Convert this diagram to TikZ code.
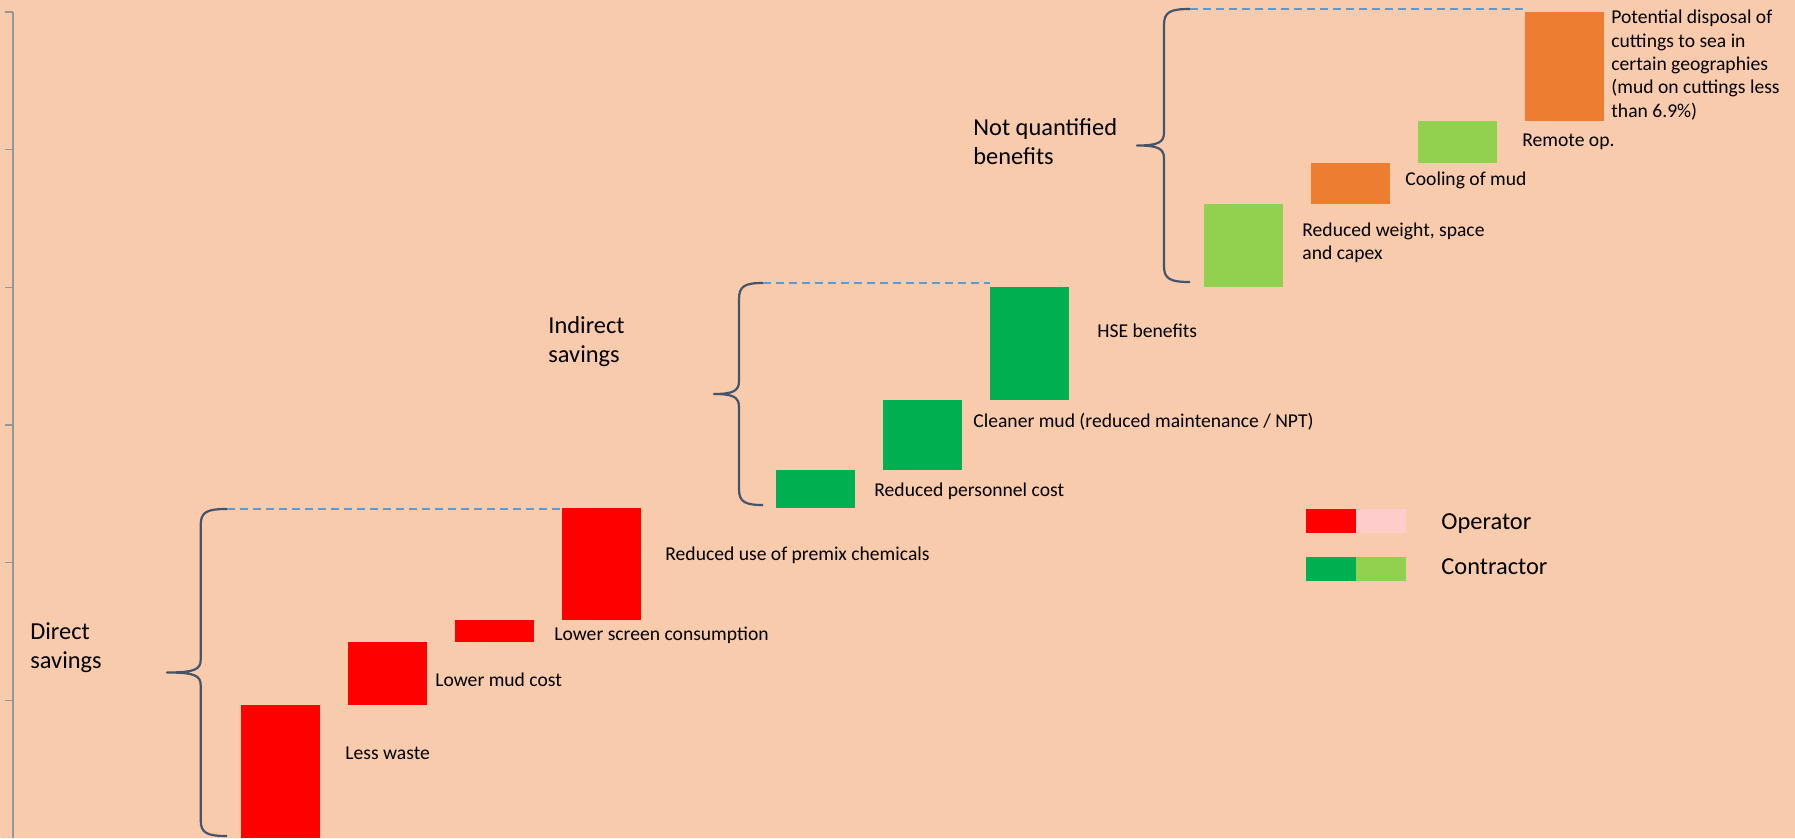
\documentclass[tikz,border=0pt]{standalone}
\usepackage{fontspec}
\setmainfont{Carlito}
\usepackage{tikz}
\usetikzlibrary{positioning}

\definecolor{bgpeach}{RGB}{248,203,173}
\definecolor{opred}{RGB}{255,0,0}
\definecolor{oppink}{RGB}{255,204,204}
\definecolor{condark}{RGB}{0,176,80}
\definecolor{conlight}{RGB}{146,208,80}
\definecolor{nqorange}{RGB}{237,125,49}
\definecolor{guideblue}{RGB}{91,155,213}
\definecolor{bracegray}{RGB}{68,84,106}
\definecolor{axisgray}{RGB}{150,150,150}

\begin{document}
\begin{tikzpicture}[
  x=0.5pt, y=-0.5pt,
  bar/.style={inner sep=0pt, outer sep=0pt, minimum width=39.5pt},
  lbl/.style={font=\fontsize{9.8}{11.65}\selectfont, inner sep=0pt, anchor=west, align=left},
  grp/.style={font=\fontsize{12.2}{14.5}\selectfont, inner sep=0pt, anchor=west, align=left},
  keybox/.style={inner sep=0pt, outer sep=0pt, minimum width=25pt, minimum height=11.85pt},
  brace/.style={draw=bracegray, line width=1.1pt, line join=round},
  guide/.style={draw=guideblue, line width=1.1pt, dash pattern=on 4pt off 2.5pt}
]
\fill[bgpeach] (0,0) rectangle (1795,838);

% value axis
\draw[axisgray, line width=0.6pt] (13,12) -- (13,838);
\foreach \k in {0,...,5}
  \draw[axisgray, line width=0.6pt] (5,12+137.67*\k) -- (13,12+137.67*\k);

% direct savings
\node[bar, fill=opred, minimum height=66.5pt, anchor=south west] (waste) at (241,838) {};
\node[bar, fill=opred, minimum height=31.5pt, above right=0pt and 14pt of waste.north east] (mud) {};
\node[bar, fill=opred, minimum height=11pt, above right=0pt and 14pt of mud.north east] (screen) {};
\node[bar, fill=opred, minimum height=56pt, above right=0pt and 14pt of screen.north east] (premix) {};

% indirect savings
\node[bar, fill=condark, minimum height=19pt, above right=0pt and 67.5pt of premix.north east] (personnel) {};
\node[bar, fill=condark, minimum height=35pt, above right=0pt and 14pt of personnel.north east] (cleaner) {};
\node[bar, fill=condark, minimum height=56.5pt, above right=0pt and 14pt of cleaner.north east] (hse) {};

% not quantified
\node[bar, fill=conlight, minimum height=41.5pt, above right=0pt and 67.5pt of hse.north east] (weight) {};
\node[bar, fill=nqorange, minimum height=20.5pt, above right=0pt and 14pt of weight.north east] (cooling) {};
\node[bar, fill=conlight, minimum height=21pt, above right=0pt and 14pt of cooling.north east] (remote) {};
\node[bar, fill=nqorange, minimum height=54.5pt, above right=0pt and 14pt of remote.north east] (disposal) {};

\node[lbl] (wasteLbl) at (345,753) {Less waste};
\node[lbl] (mudLbl) at (435,680) {Lower mud cost};
\node[lbl] (screenLbl) at (554,635) {Lower screen consumption};
\node[lbl] (premixLbl) at (665,555) {Reduced use of premix chemicals};
\node[lbl] (personnelLbl) at (874,491) {Reduced personnel cost};
\node[lbl] (cleanerLbl) at (973,422) {Cleaner mud (reduced maintenance / NPT)};
\node[lbl] (hseLbl) at (1097,331) {HSE benefits};
\node[lbl] (weightLbl) at (1302,243) {Reduced weight, space\\and capex};
\node[lbl] (coolingLbl) at (1405,180) {Cooling of mud};
\node[lbl] (remoteLbl) at (1522,142) {Remote op.};
\node[lbl] (disposalLbl) at (1611,65) {Potential disposal of\\cuttings to sea in\\certain geographies\\(mud on cuttings less\\than 6.9\%)};

\node[grp] (direct) at (30,648) {Direct\\savings};
\node[grp] (indirect) at (548,342) {Indirect\\savings};
\node[grp] (notquant) at (973,142) {Not quantified\\benefits};

% braces: name / spine x / end x / tip x / top / middle / bottom
\foreach \n/\xv/\xe/\xt/\t/\m/\b in {d/200.7/227/167/509/672.5/836, i/739/763/714/283/394/505, q/1164/1190/1137/9/145.5/282} {
  \coordinate (top-\n) at (\xe,\t);
  \draw[brace] (top-\n) .. controls (\xv+6,\t) and (\xv,\t+3) .. (\xv,\t+16)
    -- (\xv,\m-13) .. controls (\xv,\m-3) and (\xv-6,\m) .. (\xt,\m)
    .. controls (\xv-6,\m) and (\xv,\m+3) .. (\xv,\m+13)
    -- (\xv,\b-16) .. controls (\xv,\b-3) and (\xv+6,\b) .. (\xe,\b);
}

\draw[guide] (top-d) -- (top-d -| premix.west);
\draw[guide] (top-i) -- (top-i -| hse.west);
\draw[guide] (top-q) -- (top-q -| disposal.west);

% legend
\node[keybox, fill=opred, anchor=north west] (opKey) at (1306,509) {};
\node[keybox, fill=oppink, right=0pt of opKey] (opKey2) {};
\node[keybox, fill=condark, anchor=north west] (conKey) at (1306,557) {};
\node[keybox, fill=conlight, right=0pt of conKey] (conKey2) {};
\node[grp, right=17.5pt of opKey2, yshift=-1.5pt] (opText) {Operator};
\node[grp, right=17.5pt of conKey2, yshift=1pt] (conText) {Contractor};
\end{tikzpicture}
\end{document}
